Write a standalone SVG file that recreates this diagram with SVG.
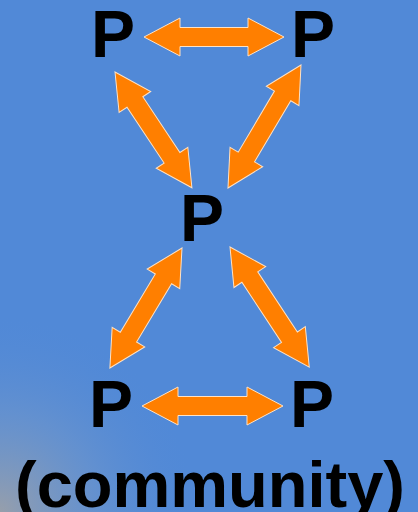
<svg xmlns="http://www.w3.org/2000/svg" width="418" height="512" viewBox="0 0 418 512">
<defs>
<radialGradient id="glow" cx="0" cy="512" r="200" gradientUnits="userSpaceOnUse">
<stop offset="0" stop-color="#a8a4a0" stop-opacity="0.8"/>
<stop offset="0.5" stop-color="#7e9cc4" stop-opacity="0.4"/>
<stop offset="1" stop-color="#5088d6" stop-opacity="0"/>
</radialGradient>
<style>
.lbl{font-family:"Liberation Sans",Arial,sans-serif;font-weight:bold;fill:#000;text-anchor:middle}
.p{font-size:66px}
.arr{fill:#ff7f00;stroke:#ffe2c4;stroke-width:1;stroke-linejoin:miter}
</style>
</defs>
<rect width="418" height="512" fill="#5189d7"/>
<rect width="418" height="512" fill="url(#glow)"/>
<g id="connectors">
<path class="arr" transform="translate(144,37)" d="M0,0 L36,-19 L36,-9.5 L104,-9.5 L104,-19 L140,0 L104,19 L104,9.5 L36,9.5 L36,19 Z"/>
<path class="arr" transform="translate(142,406)" d="M0,0 L36,-19 L36,-9.5 L105,-9.5 L105,-19 L141,0 L105,19 L105,9.5 L36,9.5 L36,19 Z"/>
<path class="arr" transform="translate(115,72) rotate(56.4)" d="M0,0 L36,-19 L36,-9.5 L103,-9.5 L103,-19 L139,0 L103,19 L103,9.5 L36,9.5 L36,19 Z"/>
<path class="arr" transform="translate(301,65) rotate(120.7)" d="M0,0 L36,-19 L36,-9.5 L107,-9.5 L107,-19 L143,0 L107,19 L107,9.5 L36,9.5 L36,19 Z"/>
<path class="arr" transform="translate(182,248) rotate(121)" d="M0,0 L36,-19 L36,-9.5 L104,-9.5 L104,-19 L140,0 L104,19 L104,9.5 L36,9.5 L36,19 Z"/>
<path class="arr" transform="translate(230,247) rotate(56.6)" d="M0,0 L36,-19 L36,-9.5 L108,-9.5 L108,-19 L144,0 L108,19 L108,9.5 L36,9.5 L36,19 Z"/>
</g>
<g id="p-top-left"><text class="lbl p" x="113" y="57">P</text></g>
<g id="p-top-right"><text class="lbl p" x="313" y="57">P</text></g>
<g id="p-center"><text class="lbl p" x="202" y="241">P</text></g>
<g id="p-bottom-left"><text class="lbl p" x="111" y="427">P</text></g>
<g id="p-bottom-right"><text class="lbl p" x="312" y="427">P</text></g>
<g id="caption"><text class="lbl" x="210" y="507" font-size="65">(community)</text></g>
</svg>
